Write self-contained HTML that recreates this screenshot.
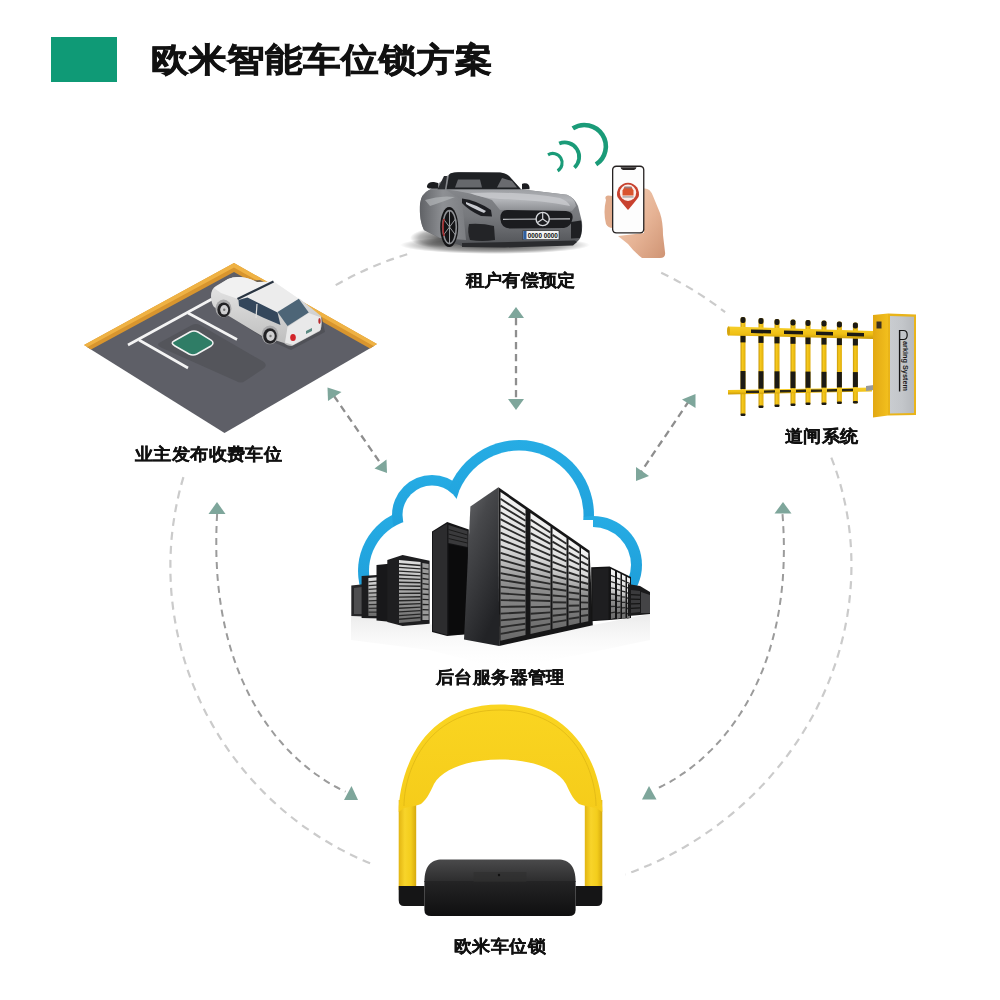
<!DOCTYPE html>
<html><head><meta charset="utf-8">
<style>
html,body{margin:0;padding:0;background:#fff;}
body{width:1000px;height:1000px;position:relative;overflow:hidden;font-family:"Liberation Sans",sans-serif;color:#111;}
.t{position:absolute;white-space:nowrap;line-height:1;}
.lbl{font-size:18px;font-weight:700;letter-spacing:0.4px;-webkit-text-stroke:0.35px #111;transform:scaleY(0.94);transform-origin:0 50%;}
#title{left:151px;top:42.5px;font-size:38px;transform:scaleY(0.88);transform-origin:0 0;font-weight:700;letter-spacing:0px;-webkit-text-stroke:0.9px #111;}
#gsq{position:absolute;left:51px;top:37px;width:66px;height:45px;background:#0f9a76;}
svg{position:absolute;left:0;top:0;}
</style></head>
<body>
<div id="gsq"></div>
<div id="title" class="t">欧米智能车位锁方案</div>

<svg width="1000" height="1000" viewBox="0 0 1000 1000">
  <g fill="none" stroke="#cbcbcb" stroke-width="2.2" stroke-dasharray="8 6">
    <path d="M335.7 285.1 A340.75 326.7 0 0 1 411.1 253.1"/>
    <path d="M661.2 272.8 A340.75 326.7 0 0 1 725.1 312.2"/>
    <path d="M183.4,477.1 C182.9,479.0 181.2,484.8 180.2,488.7 C179.2,492.6 178.3,496.6 177.4,500.5 C176.6,504.4 175.8,508.4 175.1,512.4 C174.4,516.4 173.8,520.4 173.2,524.4 C172.7,528.4 172.2,532.4 171.8,536.4 C171.4,540.4 171.1,544.5 170.9,548.5 C170.7,552.5 170.5,556.6 170.4,560.6 C170.4,564.7 170.4,568.7 170.4,572.8 C170.5,576.8 170.7,580.9 170.9,584.9 C171.1,589.0 171.4,593.0 171.8,597.1 C172.2,601.1 172.7,605.1 173.2,609.2 C173.8,613.2 174.4,617.2 175.1,621.2 C175.8,625.2 176.5,629.2 177.4,633.2 C178.2,637.1 179.2,641.1 180.2,645.0 C181.2,649.0 182.2,652.9 183.4,656.8 C184.5,660.7 185.8,664.6 187.1,668.5 C188.4,672.3 189.7,676.1 191.2,679.9 C192.6,683.7 194.2,687.5 195.8,691.3 C197.3,695.0 199.0,698.7 200.7,702.4 C202.5,706.1 204.3,709.8 206.1,713.4 C208.0,717.0 210.0,720.6 212.0,724.1 C214.0,727.7 216.1,731.2 218.2,734.6 C220.3,738.1 222.5,741.5 224.8,744.9 C227.1,748.3 229.4,751.6 231.8,754.9 C234.2,758.2 236.7,761.4 239.2,764.6 C241.7,767.8 244.3,771.0 247.0,774.1 C249.6,777.2 252.3,780.2 255.1,783.2 C257.8,786.2 260.6,789.2 263.5,792.1 C266.4,794.9 269.3,797.8 272.3,800.6 C275.2,803.3 278.3,806.0 281.3,808.7 C284.4,811.4 287.5,814.0 290.7,816.5 C293.9,819.1 297.1,821.5 300.4,824.0 C303.6,826.4 307.0,828.7 310.3,831.0 C313.7,833.3 317.1,835.6 320.5,837.7 C323.9,839.9 327.4,842.0 330.9,844.0 C334.5,846.0 338.0,848.0 341.6,849.9 C345.2,851.8 348.8,853.6 352.5,855.4 C356.1,857.2 359.8,858.8 363.5,860.5 C367.2,862.1 372.9,864.3 374.8,865.1"/>
    <path d="M831.3,457.6 C832.1,459.6 834.5,465.9 835.9,470.1 C837.3,474.3 838.7,478.5 839.9,482.8 C841.1,487.1 842.3,491.4 843.3,495.7 C844.3,500.0 845.3,504.4 846.1,508.8 C847.0,513.2 847.7,517.6 848.3,522.0 C849.0,526.4 849.5,530.9 850.0,535.3 C850.4,539.8 850.8,544.2 851.0,548.7 C851.2,553.2 851.4,557.7 851.4,562.1 C851.5,566.6 851.4,571.1 851.3,575.6 C851.1,580.1 850.9,584.5 850.5,589.0 C850.2,593.5 849.7,597.9 849.2,602.4 C848.6,606.8 848.0,611.3 847.3,615.7 C846.5,620.1 845.7,624.5 844.8,628.9 C843.9,633.3 842.8,637.7 841.7,642.0 C840.6,646.4 839.4,650.7 838.1,655.0 C836.8,659.3 835.5,663.5 834.0,667.7 C832.5,672.0 831.0,676.2 829.3,680.3 C827.7,684.5 825.9,688.6 824.1,692.7 C822.3,696.8 820.4,700.8 818.4,704.8 C816.5,708.8 814.4,712.8 812.3,716.7 C810.1,720.6 807.9,724.5 805.6,728.3 C803.3,732.1 801.0,735.8 798.5,739.6 C796.1,743.3 793.6,746.9 791.0,750.5 C788.4,754.2 785.7,757.7 783.0,761.2 C780.3,764.7 777.5,768.1 774.6,771.5 C771.8,774.9 768.9,778.2 765.9,781.5 C762.9,784.7 759.9,787.9 756.8,791.1 C753.7,794.2 750.5,797.3 747.3,800.3 C744.1,803.3 740.8,806.2 737.5,809.1 C734.2,812.0 730.8,814.8 727.4,817.6 C724.0,820.3 720.5,823.0 717.0,825.6 C713.5,828.2 709.9,830.7 706.3,833.2 C702.7,835.7 699.0,838.1 695.4,840.4 C691.7,842.7 687.9,845.0 684.2,847.2 C680.4,849.3 676.6,851.5 672.8,853.5 C668.9,855.5 665.1,857.5 661.2,859.4 C657.3,861.3 653.3,863.1 649.4,864.9 C645.4,866.6 641.4,868.3 637.4,869.9 C633.4,871.5 627.3,873.8 625.3,874.5"/>
  </g>
  <g fill="none" stroke="#9b9b9b" stroke-width="2" stroke-dasharray="7 5">
    <path d="M217.1,514.0 C217.1,515.4 216.8,519.6 216.7,522.4 C216.6,525.2 216.5,528.0 216.4,530.8 C216.4,533.6 216.3,536.4 216.3,539.2 C216.3,542.0 216.3,544.8 216.3,547.6 C216.3,550.3 216.4,553.1 216.4,555.9 C216.5,558.7 216.6,561.4 216.8,564.2 C216.9,567.0 217.1,569.7 217.2,572.5 C217.4,575.3 217.6,578.0 217.9,580.8 C218.1,583.5 218.4,586.3 218.7,589.0 C219.0,591.8 219.3,594.5 219.7,597.3 C220.1,600.0 220.5,602.7 220.9,605.5 C221.3,608.2 221.8,610.9 222.3,613.7 C222.8,616.4 223.3,619.1 223.9,621.8 C224.4,624.5 225.0,627.2 225.7,629.9 C226.3,632.6 227.0,635.3 227.7,638.0 C228.4,640.7 229.1,643.3 229.9,646.0 C230.6,648.6 231.5,651.3 232.3,653.9 C233.2,656.6 234.1,659.2 235.0,661.8 C235.9,664.4 236.9,667.0 237.9,669.6 C238.9,672.2 239.9,674.8 241.0,677.4 C242.1,679.9 243.2,682.5 244.4,685.0 C245.6,687.5 246.8,690.0 248.0,692.5 C249.2,695.0 250.5,697.5 251.9,699.9 C253.2,702.4 254.6,704.8 256.0,707.2 C257.4,709.6 258.8,712.0 260.3,714.4 C261.8,716.7 263.3,719.0 264.9,721.3 C266.5,723.6 268.1,725.9 269.8,728.2 C271.4,730.4 273.1,732.6 274.8,734.8 C276.6,737.0 278.4,739.1 280.2,741.2 C282.0,743.4 283.8,745.4 285.7,747.5 C287.6,749.5 289.6,751.5 291.5,753.5 C293.5,755.4 295.5,757.4 297.6,759.3 C299.6,761.1 301.7,763.0 303.8,764.8 C305.9,766.6 308.1,768.3 310.3,770.0 C312.5,771.7 314.7,773.4 317.0,775.0 C319.2,776.6 321.5,778.1 323.8,779.6 C326.1,781.2 328.5,782.6 330.9,784.0 C333.3,785.4 335.7,786.7 338.1,788.0 C340.6,789.3 344.3,791.1 345.5,791.7"/>
    <path d="M782.5,514.1 C782.6,515.5 782.9,519.6 783.1,522.4 C783.2,525.2 783.4,528.0 783.5,530.7 C783.6,533.5 783.7,536.3 783.8,539.0 C783.8,541.8 783.9,544.6 783.9,547.3 C783.9,550.1 783.9,552.8 783.8,555.6 C783.8,558.4 783.7,561.1 783.6,563.9 C783.5,566.6 783.4,569.4 783.2,572.1 C783.1,574.9 782.9,577.6 782.7,580.4 C782.4,583.1 782.2,585.8 781.9,588.6 C781.6,591.3 781.3,594.0 781.0,596.8 C780.6,599.5 780.2,602.2 779.8,604.9 C779.4,607.7 779.0,610.4 778.5,613.1 C778.0,615.8 777.5,618.5 777.0,621.2 C776.4,623.9 775.8,626.6 775.2,629.3 C774.6,632.0 773.9,634.6 773.2,637.3 C772.5,640.0 771.8,642.6 771.0,645.3 C770.3,647.9 769.5,650.6 768.6,653.2 C767.8,655.8 766.9,658.5 765.9,661.1 C765.0,663.7 764.1,666.3 763.1,668.8 C762.1,671.4 761.0,674.0 759.9,676.5 C758.8,679.1 757.7,681.6 756.5,684.1 C755.4,686.6 754.2,689.1 752.9,691.6 C751.7,694.0 750.4,696.5 749.1,698.9 C747.7,701.3 746.4,703.8 745.0,706.1 C743.5,708.5 742.1,710.9 740.6,713.2 C739.1,715.5 737.6,717.8 736.0,720.1 C734.4,722.4 732.8,724.6 731.1,726.9 C729.5,729.1 727.8,731.3 726.0,733.4 C724.3,735.6 722.5,737.7 720.7,739.8 C718.9,741.9 717.0,743.9 715.1,745.9 C713.3,747.9 711.3,749.9 709.3,751.8 C707.4,753.8 705.4,755.7 703.3,757.5 C701.3,759.4 699.2,761.2 697.1,762.9 C695.0,764.7 692.8,766.4 690.6,768.1 C688.4,769.8 686.2,771.4 684.0,772.9 C681.7,774.5 679.4,776.0 677.1,777.5 C674.8,779.0 672.4,780.4 670.1,781.8 C667.7,783.1 665.3,784.4 662.9,785.7 C660.4,786.9 656.7,788.7 655.5,789.3"/>
  </g>
  <g fill="none" stroke="#8e8e8e" stroke-width="2.3" stroke-dasharray="7.2 4.8">
    <path d="M516 318 L516 399"/>
    <path d="M334 396 L381 464"/>
    <path d="M689 401 L641 472"/>
  </g>
  <g fill="#7ea69b">
    <polygon points="217,502 208.5,514 225.5,514"/>
    <polygon points="351.5,786 344,800 358,800"/>
    <polygon points="783,502 774.5,513.5 791.5,513.5"/>
    <polygon points="649,786 642,799.5 656.5,799.5"/>
    <polygon points="516,307 508,318 524,318"/>
    <polygon points="516,410 508,399 524,399"/>
    <polygon points="327.5,387.5 341.5,392 328,401"/>
    <polygon points="387,473 374.5,468.5 386.5,459.5"/>
    <polygon points="695.5,394 682,399.5 695.5,408"/>
    <polygon points="636,481 636,467 649,476"/>
  </g>

  <!-- ===== parking lot ===== -->
  <g id="park">
    <polygon points="87,347 234,266 374,346 224.5,433" fill="#5e5f67"/>
    <polygon points="84,345 234,263 377,344 370,348.5 234,272 91,349.5" fill="#d8952e"/>
    <polygon points="84,345 234,263 377,344 373.5,346 234,267.5 87.5,347" fill="#efb244"/>
    <path d="M159,343 L192,325 Q196,323 200,325 L264,362 Q268,366 263,369 L245,381 Q241,384 236,381 L162,348 Q156,345 159,343Z" fill="#54555b"/>
    <g stroke="#f4f4f4" stroke-width="2.6" stroke-linecap="butt" fill="none">
      <line x1="128" y1="345" x2="212" y2="299"/>
      <line x1="139" y1="340" x2="188" y2="368"/>
      <line x1="188" y1="313" x2="237" y2="339.5"/>
    </g>
    <path d="M174,341 L190,332 Q194,330 198,332 L211,340 Q215,343 211,346 L197,354 Q193,356 189,354 L175,346 Q170,343 174,341Z" fill="#2f7d66" stroke="#f2f2f2" stroke-width="1.5"/>
    <!-- car shadow -->
    <polygon points="214,306 262,337 291,350 325,332 322,318 300,300 260,280 228,282" fill="#4c4d54" opacity="0.8"/>
    <defs><linearGradient id="carSide" x1="0" y1="0" x2="0" y2="1"><stop offset="0" stop-color="#e8e8e8"/><stop offset="1" stop-color="#bdbdbd"/></linearGradient></defs>
    <!-- car body side -->
    <path d="M211,296 Q211,289 216,286 L228,279 Q240,274 257,282 L300,299 L321,316 Q323,325 320,331 L292,346 Q287,346 284,343 L262,336 L214,307 Q211,303 211,296Z" fill="url(#carSide)"/>
    <!-- hood / top -->
    <path d="M214,288 L228,279 Q240,274 257,282 L274,281.5 L299,299 L278,312.5 L247,297.5 L238,299 L221,293 Z" fill="#f1f1f1"/>
    <polygon points="247.5,297.5 273.75,281.9 298.75,298.75 277.5,312.5" fill="#ececec"/>
    <line x1="237.5" y1="299" x2="273.5" y2="281.5" stroke="#2a3542" stroke-width="2.2"/>
    <!-- side windows -->
    <polygon points="238.5,300 247.5,297.5 277.5,312.5 280.5,325 264,318 239,306" fill="#34475c"/>
    <line x1="257" y1="304" x2="256" y2="318" stroke="#dedede" stroke-width="1.2"/>
    <!-- rear windshield -->
    <polygon points="277.5,312 298.75,298.75 308.75,312.5 287.5,326" fill="#4d6577"/>
    <!-- rear face -->
    <polygon points="287.5,327 308.75,313 321,317.5 320.5,330 293,345 285,342.5" fill="#e9e9e9"/>
    <!-- wheels -->
    <ellipse cx="223.5" cy="308.5" rx="8" ry="9" fill="#a9a9ab"/>
    <ellipse cx="270" cy="334.8" rx="8.4" ry="9.4" fill="#a9a9ab"/>
    <ellipse cx="223.75" cy="309.8" rx="6.4" ry="7.4" fill="#222225"/>
    <ellipse cx="224.2" cy="309.8" rx="4" ry="4.8" fill="#cfcfd1"/>
    <circle cx="224.2" cy="309.8" r="1.2" fill="#777"/>
    <ellipse cx="270" cy="336" rx="6.8" ry="7.8" fill="#222225"/>
    <ellipse cx="270.5" cy="336" rx="4.2" ry="5" fill="#cfcfd1"/>
    <circle cx="270.5" cy="336" r="1.2" fill="#777"/>
    <ellipse cx="293" cy="337.5" rx="2.8" ry="3.6" fill="#d2252a"/>
    <ellipse cx="319.5" cy="321" rx="1.2" ry="3" fill="#b8282a"/>
    <polygon points="306,331 312,328 312,331 306,334" fill="#5c8a82"/>
  </g>
  <!-- ===== cloud + servers ===== -->
  <defs>
    <linearGradient id="cg" x1="0" y1="0" x2="0" y2="1">
      <stop offset="0" stop-color="#26ace4"/><stop offset="1" stop-color="#1c9ad6"/>
    </linearGradient>
    <mask id="cmask" maskUnits="userSpaceOnUse" x="0" y="0" width="1000" height="1000">
      <rect x="0" y="0" width="1000" height="588" fill="#fff"/>
      <circle cx="421" cy="571" r="52" fill="#000"/>
      <circle cx="432" cy="515" r="29.5" fill="#000"/>
      <circle cx="519" cy="515" r="64.5" fill="#000"/>
      <circle cx="593" cy="565" r="38" fill="#000"/>
      <rect x="421" y="520" width="172" height="100" fill="#000"/>
    </mask>
    <linearGradient id="sideg" x1="0" y1="0" x2="0.5" y2="1">
      <stop offset="0" stop-color="#6a6b6e"/><stop offset="0.35" stop-color="#47484b"/><stop offset="1" stop-color="#222326"/>
    </linearGradient>
    <linearGradient id="grg" x1="0" y1="0" x2="0" y2="1">
      <stop offset="0" stop-color="#f6f6f6"/><stop offset="0.38" stop-color="#d8d8d8"/><stop offset="0.62" stop-color="#8e8e8e"/><stop offset="1" stop-color="#6a6a6a"/>
    </linearGradient>
    <linearGradient id="grg2" x1="0" y1="0" x2="0" y2="1">
      <stop offset="0" stop-color="#e0e0e0"/><stop offset="0.5" stop-color="#a8a8a8"/><stop offset="1" stop-color="#6a6a6a"/>
    </linearGradient>
    <linearGradient id="floorg" x1="0" y1="0" x2="0" y2="1">
      <stop offset="0" stop-color="#d6d6d6"/><stop offset="1" stop-color="#ffffff" stop-opacity="0"/>
    </linearGradient>
  </defs>
  <g mask="url(#cmask)" fill="url(#cg)">
    <circle cx="421" cy="571" r="63"/>
    <circle cx="432" cy="515" r="40"/>
    <circle cx="519" cy="515" r="75"/>
    <circle cx="593" cy="565" r="49"/>
  </g>
  <!-- floor reflection -->
  <polygon points="351,616 429,624 469,634 499,646 593,625 650,614 650,640 593,652 499,670 469,660 429,650 351,640" fill="url(#floorg)" opacity="0.5"/>

<polygon points="351.3,585.5 363.0,584.2 363.0,616.6 351.3,616.0" fill="#262628" />
<polygon points="354.0,588.0 362.0,587.0 362.0,614.0 354.0,614.0" fill="#4e4e50" />
<polygon points="361.6,576.0 381.0,574.8 381.0,618.4 361.6,618.0" fill="#1c1c1e" />
<polygon points="368.4,578.0 380.0,577.0 380.0,616.0 368.4,616.0" fill="url(#grg2)" />
<g stroke="#2e2e2e" stroke-width="1.2"><line x1="368.4" y1="581.8" x2="380.0" y2="580.9"/><line x1="368.4" y1="585.6" x2="380.0" y2="584.8"/><line x1="368.4" y1="589.4" x2="380.0" y2="588.7"/><line x1="368.4" y1="593.2" x2="380.0" y2="592.6"/><line x1="368.4" y1="597.0" x2="380.0" y2="596.5"/><line x1="368.4" y1="600.8" x2="380.0" y2="600.4"/><line x1="368.4" y1="604.6" x2="380.0" y2="604.3"/><line x1="368.4" y1="608.4" x2="380.0" y2="608.2"/><line x1="368.4" y1="612.2" x2="380.0" y2="612.1"/></g>
<polygon points="376.5,565.0 391.8,563.5 391.8,622.0 376.5,620.5" fill="#18181a" />
<polygon points="387.3,560.0 402.6,555.0 429.6,560.8 429.6,623.8 402.6,626.0 387.3,622.0" fill="#1e1e20" />
<polygon points="399.0,560.0 420.6,562.0 420.6,621.0 399.0,623.0" fill="url(#grg2)" />
<g stroke="#262626" stroke-width="1.4"><line x1="399.0" y1="563.7" x2="420.6" y2="565.5"/><line x1="399.0" y1="567.4" x2="420.6" y2="568.9"/><line x1="399.0" y1="571.1" x2="420.6" y2="572.4"/><line x1="399.0" y1="574.8" x2="420.6" y2="575.9"/><line x1="399.0" y1="578.5" x2="420.6" y2="579.4"/><line x1="399.0" y1="582.2" x2="420.6" y2="582.8"/><line x1="399.0" y1="585.9" x2="420.6" y2="586.3"/><line x1="399.0" y1="589.6" x2="420.6" y2="589.8"/><line x1="399.0" y1="593.4" x2="420.6" y2="593.2"/><line x1="399.0" y1="597.1" x2="420.6" y2="596.7"/><line x1="399.0" y1="600.8" x2="420.6" y2="600.2"/><line x1="399.0" y1="604.5" x2="420.6" y2="603.6"/><line x1="399.0" y1="608.2" x2="420.6" y2="607.1"/><line x1="399.0" y1="611.9" x2="420.6" y2="610.6"/><line x1="399.0" y1="615.6" x2="420.6" y2="614.1"/><line x1="399.0" y1="619.3" x2="420.6" y2="617.5"/></g>
<polygon points="422.4,563.0 428.7,564.0 428.7,620.0 422.4,620.0" fill="#9a9a9a" />
<g stroke="#202020" stroke-width="1.3"><line x1="422.4" y1="568.2" x2="428.7" y2="569.1"/><line x1="422.4" y1="573.4" x2="428.7" y2="574.2"/><line x1="422.4" y1="578.5" x2="428.7" y2="579.3"/><line x1="422.4" y1="583.7" x2="428.7" y2="584.4"/><line x1="422.4" y1="588.9" x2="428.7" y2="589.5"/><line x1="422.4" y1="594.1" x2="428.7" y2="594.5"/><line x1="422.4" y1="599.3" x2="428.7" y2="599.6"/><line x1="422.4" y1="604.5" x2="428.7" y2="604.7"/><line x1="422.4" y1="609.6" x2="428.7" y2="609.8"/><line x1="422.4" y1="614.8" x2="428.7" y2="614.9"/></g>
<polygon points="432.0,531.6 447.2,522.0 468.8,529.6 468.8,634.0 447.2,636.0 432.0,632.0" fill="#141416" />
<polygon points="433.0,532.0 447.2,523.5 447.2,635.0 433.0,631.0" fill="#2c2c2e" />
<polygon points="448.5,525.0 467.5,531.0 467.5,547.0 448.5,543.0" fill="#3a3a3c" />
<g stroke="#1a1a1a" stroke-width="1.0"><line x1="448.5" y1="529.5" x2="467.5" y2="535.0"/><line x1="448.5" y1="534.0" x2="467.5" y2="539.0"/><line x1="448.5" y1="538.5" x2="467.5" y2="543.0"/></g>
<polygon points="448.5,544.0 467.5,548.0 467.5,634.0 448.5,635.0" fill="#0b0b0c" />
<polygon points="470.4,506.4 498.4,487.2 499.2,646.0 464.0,639.6" fill="url(#sideg)" />
<polygon points="498.4,487.2 589.6,550.8 592.8,625.2 499.2,646.0" fill="#161617" />
<polygon points="500.5,492.0 525.5,509.4 525.5,635.1 500.5,640.7" fill="url(#grg)" />
<g stroke="#2a2a2a" stroke-width="1.9"><line x1="500.5" y1="498.8" x2="525.5" y2="515.1"/><line x1="500.5" y1="505.6" x2="525.5" y2="520.8"/><line x1="500.5" y1="512.3" x2="525.5" y2="526.6"/><line x1="500.5" y1="519.1" x2="525.5" y2="532.3"/><line x1="500.5" y1="525.8" x2="525.5" y2="538.0"/><line x1="500.5" y1="532.6" x2="525.5" y2="543.7"/><line x1="500.5" y1="539.3" x2="525.5" y2="549.4"/><line x1="500.5" y1="546.1" x2="525.5" y2="555.1"/><line x1="500.5" y1="552.8" x2="525.5" y2="560.8"/><line x1="500.5" y1="559.6" x2="525.5" y2="566.6"/><line x1="500.5" y1="566.4" x2="525.5" y2="572.3"/><line x1="500.5" y1="573.1" x2="525.5" y2="578.0"/><line x1="500.5" y1="579.9" x2="525.5" y2="583.7"/><line x1="500.5" y1="586.6" x2="525.5" y2="589.4"/><line x1="500.5" y1="593.4" x2="525.5" y2="595.1"/><line x1="500.5" y1="600.1" x2="525.5" y2="600.8"/><line x1="500.5" y1="606.9" x2="525.5" y2="606.5"/><line x1="500.5" y1="613.6" x2="525.5" y2="612.3"/><line x1="500.5" y1="620.4" x2="525.5" y2="618.0"/><line x1="500.5" y1="627.2" x2="525.5" y2="623.7"/><line x1="500.5" y1="633.9" x2="525.5" y2="629.4"/></g>
<polygon points="530.5,512.9 550.5,526.8 550.5,629.6 530.5,634.0" fill="url(#grg)" />
<g stroke="#2a2a2a" stroke-width="1.9"><line x1="530.5" y1="519.6" x2="550.5" y2="532.5"/><line x1="530.5" y1="526.3" x2="550.5" y2="538.2"/><line x1="530.5" y1="533.1" x2="550.5" y2="543.9"/><line x1="530.5" y1="539.8" x2="550.5" y2="549.6"/><line x1="530.5" y1="546.5" x2="550.5" y2="555.3"/><line x1="530.5" y1="553.3" x2="550.5" y2="561.1"/><line x1="530.5" y1="560.0" x2="550.5" y2="566.8"/><line x1="530.5" y1="566.7" x2="550.5" y2="572.5"/><line x1="530.5" y1="573.4" x2="550.5" y2="578.2"/><line x1="530.5" y1="580.2" x2="550.5" y2="583.9"/><line x1="530.5" y1="586.9" x2="550.5" y2="589.6"/><line x1="530.5" y1="593.6" x2="550.5" y2="595.3"/><line x1="530.5" y1="600.4" x2="550.5" y2="601.0"/><line x1="530.5" y1="607.1" x2="550.5" y2="606.7"/><line x1="530.5" y1="613.8" x2="550.5" y2="612.4"/><line x1="530.5" y1="620.5" x2="550.5" y2="618.1"/><line x1="530.5" y1="627.3" x2="550.5" y2="623.9"/></g>
<polygon points="552.5,528.2 566.5,537.9 566.5,626.0 552.5,629.1" fill="url(#grg)" />
<g stroke="#2a2a2a" stroke-width="1.9"><line x1="552.5" y1="534.9" x2="566.5" y2="543.8"/><line x1="552.5" y1="541.6" x2="566.5" y2="549.7"/><line x1="552.5" y1="548.4" x2="566.5" y2="555.5"/><line x1="552.5" y1="555.1" x2="566.5" y2="561.4"/><line x1="552.5" y1="561.8" x2="566.5" y2="567.3"/><line x1="552.5" y1="568.6" x2="566.5" y2="573.2"/><line x1="552.5" y1="575.3" x2="566.5" y2="579.0"/><line x1="552.5" y1="582.0" x2="566.5" y2="584.9"/><line x1="552.5" y1="588.7" x2="566.5" y2="590.8"/><line x1="552.5" y1="595.5" x2="566.5" y2="596.6"/><line x1="552.5" y1="602.2" x2="566.5" y2="602.5"/><line x1="552.5" y1="608.9" x2="566.5" y2="608.4"/><line x1="552.5" y1="615.7" x2="566.5" y2="614.3"/><line x1="552.5" y1="622.4" x2="566.5" y2="620.1"/></g>
<polygon points="568.5,539.3 579.5,546.9 579.5,623.1 568.5,625.6" fill="url(#grg)" />
<g stroke="#2a2a2a" stroke-width="1.9"><line x1="568.5" y1="545.9" x2="579.5" y2="552.8"/><line x1="568.5" y1="552.6" x2="579.5" y2="558.7"/><line x1="568.5" y1="559.2" x2="579.5" y2="564.5"/><line x1="568.5" y1="565.8" x2="579.5" y2="570.4"/><line x1="568.5" y1="572.5" x2="579.5" y2="576.2"/><line x1="568.5" y1="579.1" x2="579.5" y2="582.1"/><line x1="568.5" y1="585.8" x2="579.5" y2="588.0"/><line x1="568.5" y1="592.4" x2="579.5" y2="593.8"/><line x1="568.5" y1="599.0" x2="579.5" y2="599.7"/><line x1="568.5" y1="605.7" x2="579.5" y2="605.5"/><line x1="568.5" y1="612.3" x2="579.5" y2="611.4"/><line x1="568.5" y1="618.9" x2="579.5" y2="617.3"/></g>
<polygon points="581.0,548.0 588.3,553.1 588.3,621.2 581.0,622.8" fill="url(#grg)" />
<g stroke="#2a2a2a" stroke-width="1.9"><line x1="581.0" y1="554.8" x2="588.3" y2="559.3"/><line x1="581.0" y1="561.6" x2="588.3" y2="565.4"/><line x1="581.0" y1="568.4" x2="588.3" y2="571.6"/><line x1="581.0" y1="575.2" x2="588.3" y2="577.8"/><line x1="581.0" y1="582.0" x2="588.3" y2="584.0"/><line x1="581.0" y1="588.8" x2="588.3" y2="590.2"/><line x1="581.0" y1="595.6" x2="588.3" y2="596.4"/><line x1="581.0" y1="602.4" x2="588.3" y2="602.6"/><line x1="581.0" y1="609.2" x2="588.3" y2="608.8"/><line x1="581.0" y1="616.0" x2="588.3" y2="615.0"/></g>
<polygon points="591.2,567.2 609.6,566.4 631.0,577.0 631.0,618.0 609.6,620.0 591.2,621.2" fill="#141415" />
<polygon points="592.5,569.0 608.5,568.0 608.5,619.5 592.5,620.0" fill="#1e1e20" />
<polygon points="611.0,569.1 615.0,571.1 615.0,618.0 611.0,619.0" fill="url(#grg)" />
<g stroke="#2a2a2a" stroke-width="1.3"><line x1="611.0" y1="575.3" x2="615.0" y2="577.0"/><line x1="611.0" y1="581.6" x2="615.0" y2="582.8"/><line x1="611.0" y1="587.8" x2="615.0" y2="588.7"/><line x1="611.0" y1="594.0" x2="615.0" y2="594.5"/><line x1="611.0" y1="600.3" x2="615.0" y2="600.4"/><line x1="611.0" y1="606.5" x2="615.0" y2="606.3"/><line x1="611.0" y1="612.8" x2="615.0" y2="612.1"/></g>
<polygon points="617.0,572.1 620.5,573.8 620.5,618.0 617.0,619.0" fill="url(#grg)" />
<g stroke="#2a2a2a" stroke-width="1.3"><line x1="617.0" y1="578.0" x2="620.5" y2="579.4"/><line x1="617.0" y1="583.8" x2="620.5" y2="584.9"/><line x1="617.0" y1="589.7" x2="620.5" y2="590.4"/><line x1="617.0" y1="595.5" x2="620.5" y2="595.9"/><line x1="617.0" y1="601.4" x2="620.5" y2="601.4"/><line x1="617.0" y1="607.3" x2="620.5" y2="607.0"/><line x1="617.0" y1="613.1" x2="620.5" y2="612.5"/></g>
<polygon points="622.0,574.6 625.5,576.3 625.5,618.0 622.0,619.0" fill="url(#grg)" />
<g stroke="#2a2a2a" stroke-width="1.3"><line x1="622.0" y1="580.1" x2="625.5" y2="581.6"/><line x1="622.0" y1="585.7" x2="625.5" y2="586.8"/><line x1="622.0" y1="591.2" x2="625.5" y2="592.0"/><line x1="622.0" y1="596.8" x2="625.5" y2="597.2"/><line x1="622.0" y1="602.3" x2="625.5" y2="602.4"/><line x1="622.0" y1="607.9" x2="625.5" y2="607.6"/><line x1="622.0" y1="613.5" x2="625.5" y2="612.8"/></g>
<polygon points="627.0,577.1 630.0,578.6 630.0,618.0 627.0,619.0" fill="url(#grg)" />
<g stroke="#2a2a2a" stroke-width="1.3"><line x1="627.0" y1="582.3" x2="630.0" y2="583.5"/><line x1="627.0" y1="587.6" x2="630.0" y2="588.4"/><line x1="627.0" y1="592.8" x2="630.0" y2="593.4"/><line x1="627.0" y1="598.0" x2="630.0" y2="598.3"/><line x1="627.0" y1="603.3" x2="630.0" y2="603.2"/><line x1="627.0" y1="608.5" x2="630.0" y2="608.1"/><line x1="627.0" y1="613.8" x2="630.0" y2="613.1"/></g>
<polygon points="628.0,584.0 640.0,586.0 650.0,592.0 650.0,614.0 640.0,615.0 628.0,616.0" fill="#1a1a1b" />
<polygon points="631.0,590.0 640.0,591.0 640.0,612.0 631.0,613.0" fill="#3a3a3c" />
<g stroke="#151515" stroke-width="1.2"><line x1="631.0" y1="594.6" x2="640.0" y2="595.2"/><line x1="631.0" y1="599.2" x2="640.0" y2="599.4"/><line x1="631.0" y1="603.8" x2="640.0" y2="603.6"/><line x1="631.0" y1="608.4" x2="640.0" y2="607.8"/></g>
<polygon points="641.0,592.0 650.0,595.0 650.0,613.0 641.0,613.0" fill="#444446" />
  <!-- ===== parking lock ===== -->
  <defs>
    <linearGradient id="legg" x1="0" y1="0" x2="1" y2="0">
      <stop offset="0" stop-color="#e2b512"/><stop offset="0.35" stop-color="#f8d42a"/><stop offset="0.7" stop-color="#f3cd1c"/><stop offset="1" stop-color="#d6a90e"/>
    </linearGradient>
    <linearGradient id="archg" x1="0" y1="0" x2="0" y2="1">
      <stop offset="0" stop-color="#fad521"/><stop offset="1" stop-color="#f5cc1a"/>
    </linearGradient>
    <linearGradient id="baseTop" x1="0" y1="0" x2="0" y2="1">
      <stop offset="0" stop-color="#4a4a4b"/><stop offset="1" stop-color="#2c2c2d"/>
    </linearGradient>
    <linearGradient id="baseFront" x1="0" y1="0" x2="0" y2="1">
      <stop offset="0" stop-color="#242425"/><stop offset="1" stop-color="#0f0f10"/>
    </linearGradient>
  </defs>
  <g id="lock">
    <rect x="398.7" y="800" width="17.5" height="90" fill="url(#legg)"/>
    <rect x="584.8" y="800" width="17.5" height="90" fill="url(#legg)"/>
    <path d="M398.7,812 C398.7,778 418,704.5 500,704.5 C582,704.5 602.3,778 602.3,812 L596,808 Q584,806 579,804 C572,798 570,792 566,784 C557,768 530,759.5 500,759.5 C470,759.5 443,768 434,784 C430,792 428,798 421,804 Q416,806 404,808 Z" fill="url(#archg)"/>
    <path d="M404,806 C404,776 423,710 500,710 C577,710 596,776 596,806" fill="none" stroke="#dcb414" stroke-width="1" opacity="0.7"/>
    <path d="M398.7,886 L424.5,886 L424.5,906 L404,906 Q398.7,906 398.7,900 Z" fill="#151516"/>
    <path d="M575.5,886 L602.3,886 L602.3,900 Q602.3,906 597,906 L575.5,906 Z" fill="#151516"/>
    <path d="M442,859.5 L558,859.5 C569,859.5 575.6,866 575.6,882 L424.4,882 C424.4,866 431,859.5 442,859.5 Z" fill="url(#baseTop)"/>
    <path d="M424.4,881 L575.6,881 L575.6,910 Q575.6,916 569,916 L431,916 Q424.4,916 424.4,910 Z" fill="url(#baseFront)"/>
    <rect x="473.6" y="872" width="52.8" height="10" fill="#2e2e2f" opacity="0.6"/>
    <circle cx="499" cy="875" r="1.2" fill="#111"/>
  </g>
  <!-- ===== barrier gate ===== -->
  <defs>
    <linearGradient id="pkg" x1="0" y1="0" x2="1" y2="0">
      <stop offset="0" stop-color="#c99a06"/><stop offset="0.4" stop-color="#f5c81c"/><stop offset="1" stop-color="#e0ae0c"/>
    </linearGradient>
    <linearGradient id="armg" x1="0" y1="0" x2="0" y2="1">
      <stop offset="0" stop-color="#f7cf2a"/><stop offset="0.6" stop-color="#f0c014"/><stop offset="1" stop-color="#c89808"/>
    </linearGradient>
    <linearGradient id="boxg" x1="0" y1="0" x2="1" y2="0">
      <stop offset="0" stop-color="#c9ccd0"/><stop offset="0.5" stop-color="#c3c6ca"/><stop offset="1" stop-color="#b6b9bd"/>
    </linearGradient>
    <linearGradient id="boxy" x1="0" y1="0" x2="1" y2="0">
      <stop offset="0" stop-color="#e2a812"/><stop offset="1" stop-color="#f2bf1e"/>
    </linearGradient>
  </defs>
  <g id="gate">

<rect x="740.5" y="317" width="5" height="99" rx="2" fill="url(#pkg)"/>
<rect x="740.5" y="317" width="5" height="6" rx="2" fill="#1c1a14"/>
<rect x="740.5" y="335.4" width="5" height="7" fill="#1c1a14"/>
<rect x="740.5" y="371.0" width="5" height="18.0" fill="#1c1a14"/>
<rect x="740.5" y="413.5" width="5" height="2.5" rx="1.2" fill="#1c1a14"/>
<rect x="758.5" y="318" width="5" height="90" rx="2" fill="url(#pkg)"/>
<rect x="758.5" y="318" width="5" height="6" rx="2" fill="#1c1a14"/>
<rect x="758.5" y="335.9" width="5" height="7" fill="#1c1a14"/>
<rect x="758.5" y="371.2" width="5" height="17.5" fill="#1c1a14"/>
<rect x="758.5" y="405.5" width="5" height="2.5" rx="1.2" fill="#1c1a14"/>
<rect x="774.5" y="319" width="5" height="88" rx="2" fill="url(#pkg)"/>
<rect x="774.5" y="319" width="5" height="6" rx="2" fill="#1c1a14"/>
<rect x="774.5" y="336.4" width="5" height="7" fill="#1c1a14"/>
<rect x="774.5" y="371.3" width="5" height="17.1" fill="#1c1a14"/>
<rect x="774.5" y="404.5" width="5" height="2.5" rx="1.2" fill="#1c1a14"/>
<rect x="790.5" y="319.4" width="5" height="86.60000000000002" rx="2" fill="url(#pkg)"/>
<rect x="790.5" y="319.4" width="5" height="6" rx="2" fill="#1c1a14"/>
<rect x="790.5" y="336.8" width="5" height="7" fill="#1c1a14"/>
<rect x="790.5" y="371.5" width="5" height="16.6" fill="#1c1a14"/>
<rect x="790.5" y="403.5" width="5" height="2.5" rx="1.2" fill="#1c1a14"/>
<rect x="805.5" y="320" width="5" height="85" rx="2" fill="url(#pkg)"/>
<rect x="805.5" y="320" width="5" height="6" rx="2" fill="#1c1a14"/>
<rect x="805.5" y="337.2" width="5" height="7" fill="#1c1a14"/>
<rect x="805.5" y="371.6" width="5" height="16.2" fill="#1c1a14"/>
<rect x="805.5" y="402.5" width="5" height="2.5" rx="1.2" fill="#1c1a14"/>
<rect x="821.5" y="320.6" width="5" height="84.39999999999998" rx="2" fill="url(#pkg)"/>
<rect x="821.5" y="320.6" width="5" height="6" rx="2" fill="#1c1a14"/>
<rect x="821.5" y="337.6" width="5" height="7" fill="#1c1a14"/>
<rect x="821.5" y="371.8" width="5" height="15.8" fill="#1c1a14"/>
<rect x="821.5" y="402.5" width="5" height="2.5" rx="1.2" fill="#1c1a14"/>
<rect x="836.9" y="321.4" width="5" height="82.60000000000002" rx="2" fill="url(#pkg)"/>
<rect x="836.9" y="321.4" width="5" height="6" rx="2" fill="#1c1a14"/>
<rect x="836.9" y="338.1" width="5" height="7" fill="#1c1a14"/>
<rect x="836.9" y="372.0" width="5" height="15.4" fill="#1c1a14"/>
<rect x="836.9" y="401.5" width="5" height="2.5" rx="1.2" fill="#1c1a14"/>
<rect x="852.9" y="322.6" width="5" height="80.79999999999995" rx="2" fill="url(#pkg)"/>
<rect x="852.9" y="322.6" width="5" height="6" rx="2" fill="#1c1a14"/>
<rect x="852.9" y="338.5" width="5" height="7" fill="#1c1a14"/>
<rect x="852.9" y="372.1" width="5" height="15.0" fill="#1c1a14"/>
<rect x="852.9" y="400.9" width="5" height="2.5" rx="1.2" fill="#1c1a14"/>
<polygon points="728,326.5 873,331 873,339 728,335.5" fill="url(#armg)"/>
<ellipse cx="728.5" cy="331" rx="1.5" ry="4.5" fill="#d6a50c"/>
<polygon points="751,329.4 771,330.0 771,333.6 751,333.0" fill="#1c1a14"/>
<polygon points="784,330.4 803,331.0 803,334.6 784,334.0" fill="#1c1a14"/>
<polygon points="816,331.4 833,332.0 833,335.6 816,335.0" fill="#1c1a14"/>
<polygon points="847,332.4 864,332.9 864,336.5 847,336.0" fill="#1c1a14"/>
<polygon points="728,390 872,387.5 872,391.5 728,394.5" fill="url(#armg)"/>
<polygon points="746,390.7 759,390.5 759,392.9 746,393.1" fill="#2a2616"/>
<polygon points="764,390.4 775,390.2 775,392.6 764,392.8" fill="#2a2616"/>
<polygon points="780,390.1 791,389.9 791,392.3 780,392.5" fill="#2a2616"/>
<polygon points="796,389.8 806,389.6 806,392.0 796,392.2" fill="#2a2616"/>
<polygon points="811,389.6 822,389.4 822,391.8 811,392.0" fill="#2a2616"/>
<polygon points="827,389.3 837,389.1 837,391.5 827,391.7" fill="#2a2616"/>
<polygon points="842,389.0 853,388.8 853,391.2 842,391.4" fill="#2a2616"/>
<polygon points="866,386 874,385 874,390 866,391" fill="#9a9a9a"/>
<polygon points="873,315 888,313.5 888,415.5 873,417.5" fill="url(#boxy)"/>
<polygon points="888,313.5 916,314.5 916,415 888,415.5" fill="#e9b41a"/>
<polygon points="890,316 914,316.8 914,413 890,413.5" fill="url(#boxg)"/>
<rect x="876.5" y="321.5" width="5" height="7" fill="#3a3020"/>
<line x1="899.6" y1="330" x2="899.6" y2="391.5" stroke="#151515" stroke-width="1.4"/>
<path d="M899.8,330.5 L903.5,330.5 Q907.2,330.5 907.2,335 Q907.2,339.5 903.5,339.5 L899.8,339.5" fill="none" stroke="#151515" stroke-width="1.2"/>
<g transform="translate(903,341) rotate(90)"><text x="0" y="0" font-family="Liberation Sans" font-size="6.6" font-weight="700" fill="#1a1a1a" textLength="50" lengthAdjust="spacingAndGlyphs">arking System</text></g>
</g>
  <!-- ===== mercedes car ===== -->
  <defs>
    <radialGradient id="carShadow" cx="0.5" cy="0.5" r="0.5">
      <stop offset="0" stop-color="#000" stop-opacity="0.75"/><stop offset="0.7" stop-color="#000" stop-opacity="0.35"/><stop offset="1" stop-color="#000" stop-opacity="0"/>
    </radialGradient>
    <linearGradient id="hoodg" x1="0" y1="0" x2="0" y2="1">
      <stop offset="0" stop-color="#9c9ea2"/><stop offset="0.5" stop-color="#b2b4b8"/><stop offset="1" stop-color="#8c8e92"/>
    </linearGradient>
    <linearGradient id="bodyg" x1="0" y1="0" x2="0" y2="1">
      <stop offset="0" stop-color="#8e9094"/><stop offset="0.6" stop-color="#76787c"/><stop offset="1" stop-color="#505256"/>
    </linearGradient>
    <linearGradient id="sideCar" x1="0" y1="0" x2="1" y2="0">
      <stop offset="0" stop-color="#606266"/><stop offset="0.5" stop-color="#8e9094"/><stop offset="1" stop-color="#7c7e82"/>
    </linearGradient>
  </defs>
  <g id="car">
    <ellipse cx="495" cy="245" rx="95" ry="9" fill="url(#carShadow)"/>
    <ellipse cx="440" cy="238" rx="30" ry="10" fill="url(#carShadow)" opacity="0.8"/>
    <!-- main body silhouette -->
    <path d="M420,204 Q421,194 429,190 L446,178 Q448,172 460,172 L500,172.5 Q506,173 510,177 L521,189.3 L567,194.7 Q575,198 578,206 L582,222 Q583,236 578,241 L574,244 L505,247 L462,246 L440,238 L424,230 Q419,220 420,204 Z" fill="url(#bodyg)"/>
    <!-- side panel -->
    <path d="M420,204 Q421,194 429,190 L446,190 L462,200 L466,240 L440,238 L424,230 Q419,220 420,204Z" fill="url(#sideCar)"/>
    <!-- hood -->
    <path d="M444.7,189.3 L521,189.3 L567,194.7 Q575,198 576,206 L572,211 L500,210 L492,200 Q470,192 444.7,189.3Z" fill="url(#hoodg)"/>
    <path d="M470,193 Q520,191 560,198 Q568,201 570,206 Q540,200 500,199 Q480,198 470,193Z" fill="#c9cbce" opacity="0.8"/>
    <path d="M425,200 Q440,195 455,197 Q445,201 430,206Z" fill="#b4b6b9" opacity="0.7"/>
    <!-- windshield -->
    <path d="M446.5,189.3 L449,175 Q450,172.5 458,172.3 L500,172.5 Q506,173 509,176 L521,189.3 Z" fill="#1f2124"/>
    <path d="M455,187.5 L458,179.5 L480,179.5 L482,187.5Z" fill="#66686c"/>
    <path d="M497,187.5 L502,178 L512,181 L517,187.5Z" fill="#8a8c90" opacity="0.7"/>
    <!-- side window -->
    <path d="M437.5,189.3 L444,176 L447,176 L445,189.3Z" fill="#2a2c30"/>
    <!-- mirrors -->
    <path d="M427,186 Q428,181.5 434,182 L438,183 L438,188.4 L429,188.4 Q426.5,188 427,186Z" fill="#1c1d20"/>
    <path d="M522,184 Q523,183 527,183.5 Q530,185 529.5,189.3 L522,189.3Z" fill="#1c1d20"/>
    <!-- headlight -->
    <path d="M462,198.5 Q476,200 491,210 L492,216.5 L481,216 Q468,210 462,203Z" fill="#1d1e22"/>
    <path d="M466,202 Q476,205 486,211 L484,213 Q472,208 466,204Z" fill="#e8eaf0" opacity="0.85"/>
    <!-- wheel -->
    <ellipse cx="449.2" cy="227.1" rx="9" ry="20" fill="#141416"/>
    <ellipse cx="449.5" cy="227.1" rx="6.8" ry="16.5" fill="none" stroke="#8e9094" stroke-width="1.6"/>
    <g stroke="#9a9ca0" stroke-width="1">
      <line x1="449.5" y1="211" x2="449.5" y2="243"/>
      <line x1="443.5" y1="219" x2="455.5" y2="235"/>
      <line x1="455.5" y1="219" x2="443.5" y2="235"/>
    </g>
    <path d="M444,219 Q442,227 444,236" fill="none" stroke="#a0282a" stroke-width="1.6"/>
    <!-- lower intake left -->
    <path d="M469,224 Q482,223 494,226 L495,240 Q482,242 470,240 Q467,232 469,224Z" fill="#232427"/>
    <!-- grille -->
    <path d="M507,210 L566,211 Q574,212 572.4,219 Q571,227 564,228 L510,228.5 Q501,228 500.4,219 Q500,210 507,210Z" fill="#1b1c1f"/>
    <line x1="503" y1="219.3" x2="570" y2="218.8" stroke="#c4c6ca" stroke-width="1.2"/>
    <circle cx="542.7" cy="219" r="6.6" fill="#1b1c1f" stroke="#d6d8dc" stroke-width="1.4"/>
    <g stroke="#d6d8dc" stroke-width="1.2">
      <line x1="542.7" y1="213" x2="542.7" y2="219"/>
      <line x1="542.7" y1="219" x2="537.6" y2="222.4"/>
      <line x1="542.7" y1="219" x2="547.8" y2="222.4"/>
    </g>
    <!-- right intake -->
    <path d="M571,222 L581,220.5 Q583,230 580,238 L571,238.5Z" fill="#1f2023"/>
    <!-- bumper bottom -->
    <path d="M462,243 L575,240.5 L577,242 L573,245.5 L505,247.5 L462,247Z" fill="#2a2b2e"/>
    <!-- plate -->
    <rect x="523" y="230.7" width="36" height="9" fill="#f4f4f4" stroke="#222" stroke-width="0.6"/>
    <rect x="523.3" y="231" width="3.2" height="8.4" fill="#2e5fa0"/>
    <text x="527.8" y="238.4" font-family="Liberation Sans" font-size="8" font-weight="700" fill="#111" textLength="30" lengthAdjust="spacingAndGlyphs">0000 0000</text>
  </g>
  <!-- ===== signal + phone ===== -->
  <g fill="none" stroke="#1a9b78" stroke-linecap="butt">
    <path d="M548,154.8 A9.3,9.3 0 0 1 557.6,170.8" stroke-width="3.2"/>
    <path d="M559.2,143.6 A14.4,14.4 0 0 1 574.4,167.6" stroke-width="3.8"/>
    <path d="M572.8,128.4 A21.4,21.4 0 0 1 596,164.4" stroke-width="4.6"/>
  </g>
  <defs>
    <linearGradient id="skin" x1="0" y1="0" x2="1" y2="1">
      <stop offset="0" stop-color="#f3cfb6"/><stop offset="0.55" stop-color="#e6b395"/><stop offset="1" stop-color="#cf9474"/>
    </linearGradient>
  </defs>
  <g id="phone">
    <path d="M606,200 Q604,196 608,195.5 L613,196 L613,228 Q608,228 606,224 Q603,212 606,200Z" fill="#e2ad8e"/>
    <path d="M644,188.6 Q650,188 653,196 L660,213 Q663,222 663,235 L665,252 Q666,258 660,258 L642,258 Q634,252 628,244 L618,236 L644,233Z" fill="url(#skin)"/>
    <rect x="612" y="165.6" width="32.4" height="68" rx="4.2" fill="#262222"/>
    <rect x="613.3" y="166.9" width="29.8" height="65.4" rx="3.2" fill="#fdfdfd"/>
    <path d="M620.5,167.2 L636.5,167.2 Q636,170 634,170 L623,170 Q621,170 620.5,167.2Z" fill="#2a2626"/>
    <path d="M628,210 Q621,202 617.5,197 A11,11 0 1 1 638.5,197 Q635,202 628,210Z" fill="#c8412e"/>
    <circle cx="628" cy="192.7" r="8.2" fill="#fbeeea"/>
    <path d="M622.5,190.5 L624.5,187 L631.5,187 L633.5,190.5 L633.5,195.5 L622.5,195.5Z" fill="#d9542f"/>
    <rect x="624.5" y="186.5" width="7" height="1.8" fill="#9a7a7a"/>
    <rect x="622.5" y="196" width="11" height="1.8" fill="#b9b3b3"/>
  </g>
</svg>

<div class="t lbl" style="left:465.5px;top:271px;">租户有偿预定</div>
<div class="t lbl" style="left:135px;top:444.5px;">业主发布收费车位</div>
<div class="t lbl" style="left:785px;top:427px;">道闸系统</div>
<div class="t lbl" style="left:436px;top:667.5px;">后台服务器管理</div>
<div class="t lbl" style="left:454px;top:936.5px;">欧米车位锁</div>

</body></html>
